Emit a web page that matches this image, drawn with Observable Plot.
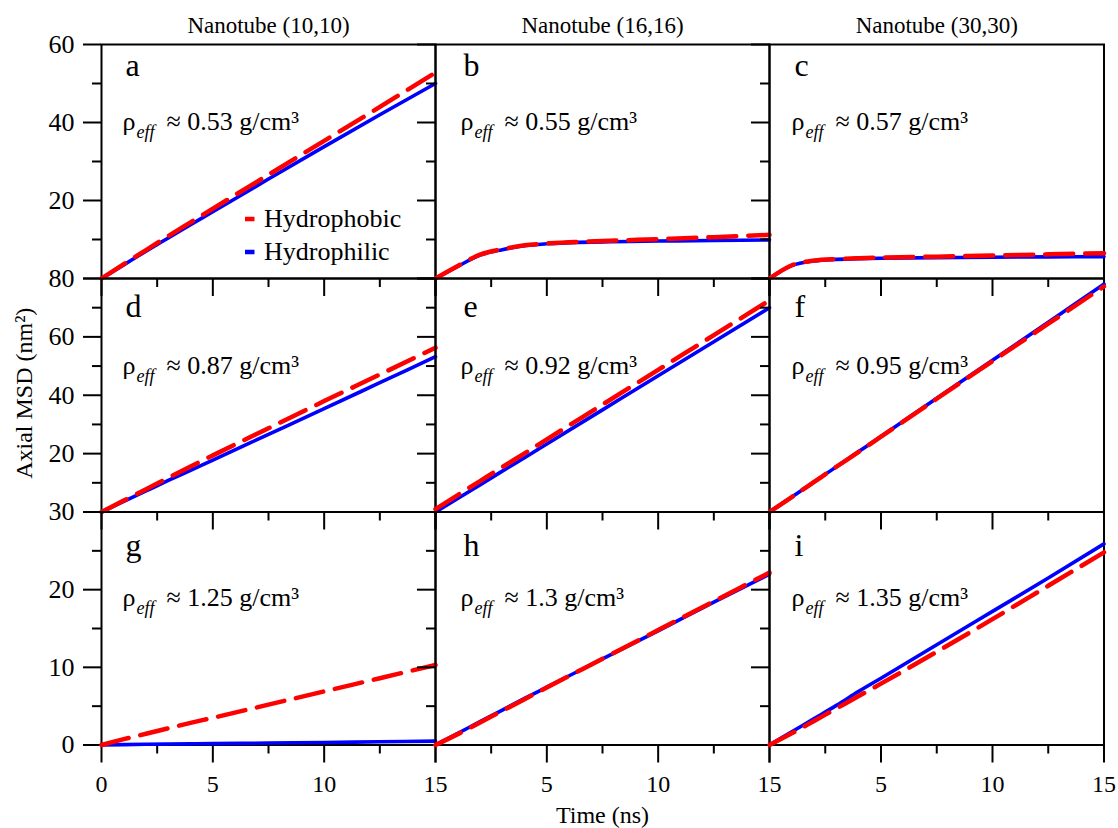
<!DOCTYPE html>
<html><head><meta charset="utf-8">
<script src="https://cdn.jsdelivr.net/npm/d3@7"></script>
<script src="https://cdn.jsdelivr.net/npm/@observablehq/plot@0.6"></script>
<style>
body{margin:0;background:#fff;}
#chart{position:relative;width:1118px;height:828px;overflow:hidden;background:#fff;}
#chart svg{position:absolute;left:0;top:0;max-width:none;background:transparent;}
#chart svg, #chart svg text{font-family:"Liberation Serif","Times New Roman",Times,serif !important;}
</style></head><body><div id="chart"></div>
<script>
// ---- data ----
const time = [0, 1, 2, 3, 4, 5, 7.5, 10, 12.5, 15];

const hydrophobicA = [0, 3.7, 7.3, 10.9, 14.4, 17.9, 26.6, 35.3, 44.0, 52.8];
const hydrophilicA = [0, 3.5, 7.0, 10.4, 13.8, 17.1, 25.5, 33.8, 42.0, 50.0];
const hydrophobicB = [0, 3.2, 6.1, 7.5, 8.5, 9.0, 9.6, 10.1, 10.6, 11.2];
const hydrophilicB = [0, 3.1, 6.0, 7.4, 8.4, 8.9, 9.4, 9.6, 9.75, 9.9];
const hydrophobicC = [0, 3.4, 4.6, 5.0, 5.2, 5.35, 5.6, 5.9, 6.2, 6.5];
const hydrophilicC = [0, 3.3, 4.5, 4.9, 5.1, 5.2, 5.35, 5.45, 5.55, 5.6];
const hydrophobicD = [0, 3.9, 7.8, 11.7, 15.6, 19.4, 28.7, 38.0, 47.1, 56.3];
const hydrophilicD = [0, 3.6, 7.2, 10.8, 14.3, 17.8, 26.6, 35.4, 44.3, 53.2];
const hydrophobicE = [1, 5.8, 10.6, 15.4, 20.1, 24.9, 36.8, 48.7, 60.6, 72.5];
const hydrophilicE = [0, 4.6, 9.3, 14.0, 18.6, 23.3, 35.0, 46.7, 58.3, 70.0];
const hydrophobicF = [0, 5.1, 10.3, 15.5, 20.6, 25.8, 38.8, 51.7, 64.5, 77.3];
const hydrophilicF = [0, 5.1, 10.3, 15.5, 20.7, 25.9, 39.0, 52.0, 65.0, 78.1];
const hydrophobicG = [0, 0.75, 1.45, 2.15, 2.85, 3.5, 5.2, 6.9, 8.6, 10.3];
const hydrophilicG = [0, 0.05, 0.09, 0.12, 0.15, 0.18, 0.25, 0.33, 0.41, 0.5];
const hydrophobicH = [0, 1.4, 2.9, 4.4, 5.9, 7.4, 11.1, 14.8, 18.5, 22.2];
const hydrophilicH = [0, 1.5, 3.0, 4.5, 6.0, 7.45, 11.1, 14.7, 18.4, 22.0];
const hydrophobicI = [0, 1.5, 3.1, 4.7, 6.3, 7.9, 12.0, 16.2, 20.5, 24.8];
const hydrophilicI = [0, 1.7, 3.4, 5.1, 6.9, 8.6, 12.9, 17.2, 21.5, 25.9];

const panelLetters = ["a", "b", "c", "d", "e", "f", "g", "h", "i"];
const densities = ["0.53", "0.55", "0.57", "0.87", "0.92", "0.95", "1.25", "1.3", "1.35"];
const nanotubes = ["Nanotube (10,10)", "Nanotube (16,16)", "Nanotube (30,30)"];
const seriesNames = ["Hydrophobic", "Hydrophilic"];
const xMajorTicks = [0, 5, 10, 15];
const xMinorTicks = [2.5, 7.5, 12.5];
const yMax = [60, 80, 30];
const yMajorTicks = [[0, 20, 40, 60], [0, 20, 40, 60, 80], [0, 10, 20, 30]];
const yMinorTicks = [[10, 30, 50], [10, 30, 50, 70], [5, 15, 25]];
const xLabel = "Time (ns)";
const yLabel = "Axial MSD (nm²)";

const hydrophobicSeries = [hydrophobicA, hydrophobicB, hydrophobicC, hydrophobicD, hydrophobicE, hydrophobicF, hydrophobicG, hydrophobicH, hydrophobicI];
const hydrophilicSeries = [hydrophilicA, hydrophilicB, hydrophilicC, hydrophilicD, hydrophilicE, hydrophilicF, hydrophilicG, hydrophilicH, hydrophilicI];

// ---- layout / style ----
const W = 1118, H = 828;
const colLeft = [101, 435, 769], colRight = [435, 769, 1103.5];
const rowTop = [44, 278, 511.5], rowBottom = [278, 511.5, 744.5];
const RED = "#ff0000", BLUE = "#0000ff";
const FONT = "Liberation Serif";
const letterDx = [24, 28, 25], letterDy = [31, 38, 44];
const densDx = [21, 25, 22], densDy = [85, 95, 94];

const chart = document.getElementById("chart");

for (let r = 0; r < 3; r++) {
  for (let c = 0; c < 3; c++) {
    const k = r * 3 + c;
    const phobic = time.map((t, i) => ({t, v: hydrophobicSeries[k][i]}));
    const phil = time.map((t, i) => ({t, v: hydrophilicSeries[k][i]}));
    const L = colLeft[c], R = colRight[c], T = rowTop[r], B = rowBottom[r];
    const txt = {frameAnchor: "top-left", textAnchor: "start", lineAnchor: "bottom", fontFamily: FONT, fill: "black"};
    const marks = [
      Plot.frame({stroke: "black", strokeWidth: 2}),
      Plot.axisY(yMajorTicks[r], {anchor: "left", tickSize: 18, tickPadding: 9, strokeWidth: 2, fontSize: 26, fontFamily: FONT, label: null,
        tickFormat: d => (c === 0 && (d !== 0 || r === 2)) ? String(d) : ""}),
      Plot.axisY(yMinorTicks[r], {anchor: "left", tickSize: 9, strokeWidth: 2, label: null, tickFormat: () => ""}),
      Plot.axisX(xMajorTicks, {anchor: "bottom", tickSize: 18, tickPadding: 12, strokeWidth: 2, fontSize: 24, fontFamily: FONT, label: null,
        tickFormat: d => (r === 2 && (d !== 0 || c === 0)) ? String(d) : ""}),
      Plot.axisX(xMinorTicks, {anchor: "bottom", tickSize: 9, strokeWidth: 2, label: null, tickFormat: () => ""}),
      Plot.line(phil, {x: "t", y: "v", stroke: BLUE, strokeWidth: 3.6, curve: "monotone-x"}),
      Plot.line(phobic, {x: "t", y: "v", stroke: RED, strokeWidth: 4.5, strokeDasharray: "28,12", curve: "monotone-x"}),
      Plot.text([panelLetters[k]], {...txt, text: d => d, dx: letterDx[c], dy: letterDy[r], fontSize: 32}),
      Plot.text(["ρ"], {...txt, text: d => d, dx: densDx[c], dy: densDy[r], fontSize: 26}),
      Plot.text(["eff"], {...txt, text: d => d, dx: densDx[c] + 14, dy: densDy[r] + 8, fontSize: 18, fontStyle: "italic"}),
      Plot.text(["≈ " + densities[k] + " g/cm³"], {...txt, text: d => d, dx: densDx[c] + 44, dy: densDy[r], fontSize: 26})
    ];
    if (r === 0) {
      marks.push(Plot.text([nanotubes[c]], {text: d => d, frameAnchor: "top", textAnchor: "middle", lineAnchor: "bottom", dy: -12, fontSize: 23, fontFamily: FONT, fill: "black"}));
    }
    if (r === 1 && c === 0) {
      marks.push(Plot.text([yLabel], {text: d => d, frameAnchor: "left", textAnchor: "middle", lineAnchor: "bottom", rotate: -90, dx: -70, dy: -2, fontSize: 24, fontFamily: FONT, fill: "black"}));
    }
    if (r === 2 && c === 1) {
      marks.push(Plot.text([xLabel], {text: d => d, frameAnchor: "bottom", textAnchor: "middle", lineAnchor: "bottom", dy: 78, fontSize: 24, fontFamily: FONT, fill: "black"}));
    }
    if (r === 0 && c === 0) {
      // legend
      marks.push(() => {
        const g = d3.create("svg:g").attr("font-size", 26).attr("font-family", FONT).attr("text-anchor", "start");
        [RED, BLUE].forEach((col, i) => {
          const cy = T + 175 + i * 33;
          g.append("rect").attr("x", L + 144).attr("y", cy - 2.25).attr("width", 9.5).attr("height", 4.5).attr("fill", col);
          g.append("text").attr("x", L + 163).attr("y", cy + 8).attr("fill", "black").text(seriesNames[i]);
        });
        return g.node();
      });
    }
    const svg = Plot.plot({
      width: W, height: H,
      marginLeft: L, marginRight: W - R, marginTop: T, marginBottom: H - B,
      style: {background: "transparent", fontFamily: FONT, color: "black", overflow: "visible"},
      x: {domain: [0, 15], axis: null},
      y: {domain: [0, yMax[r]], axis: null},
      marks
    });
    chart.appendChild(svg);
  }
}
</script></body></html>
